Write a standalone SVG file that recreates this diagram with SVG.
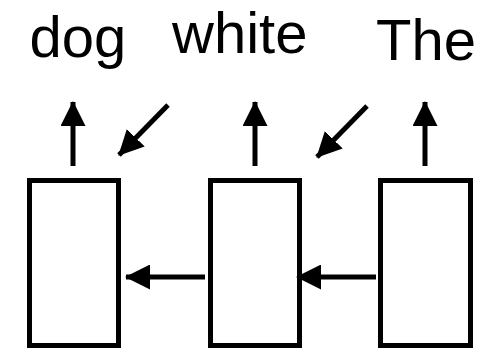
<svg xmlns="http://www.w3.org/2000/svg" width="481" height="350" viewBox="0 0 481 350">
  <style>
    .cell { fill: #fff; stroke: #000; stroke-width: 5; }
    .word { font-family: "Liberation Sans", Arial, Helvetica, sans-serif; font-size: 58px; fill: #000; }
    .link { stroke: #000; stroke-width: 5; fill: none; }
  </style>
  <defs>
    <marker id="head" viewBox="0 0 25 25" refX="24" refY="12.5" markerWidth="25" markerHeight="25" markerUnits="userSpaceOnUse" orient="auto">
      <path d="M0,0 L25,12.5 L0,25 Z" fill="#000"/>
    </marker>
  </defs>

  <rect width="481" height="350" fill="#fff"/>

  <g id="word-dog"><text class="word" x="29.5" y="57">dog</text></g>
  <g id="word-white"><text class="word" x="172" y="53">white</text></g>
  <g id="word-the"><text class="word" x="376" y="60">The</text></g>

  <g id="cell-1"><rect class="cell" x="29.5" y="180.5" width="89" height="165"/></g>
  <g id="cell-2"><rect class="cell" x="210.5" y="180.5" width="89" height="165"/></g>
  <g id="cell-3"><rect class="cell" x="380.5" y="180.5" width="90" height="165"/></g>

  <g id="connectors">
    <line class="link" x1="73" y1="166" x2="73" y2="102" marker-end="url(#head)"/>
    <line class="link" x1="255" y1="166" x2="255" y2="102" marker-end="url(#head)"/>
    <line class="link" x1="425" y1="166" x2="425" y2="102" marker-end="url(#head)"/>
    <line class="link" x1="168" y1="105" x2="119" y2="155" marker-end="url(#head)"/>
    <line class="link" x1="367" y1="106" x2="317" y2="157" marker-end="url(#head)"/>
    <line class="link" x1="205" y1="277" x2="126" y2="277" marker-end="url(#head)"/>
    <line class="link" x1="376" y1="277" x2="297" y2="277" marker-end="url(#head)"/>
  </g>
</svg>
